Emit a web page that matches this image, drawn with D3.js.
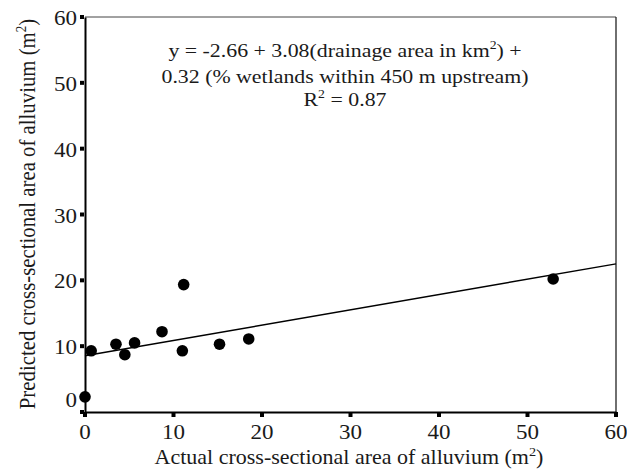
<!DOCTYPE html>
<html>
<head>
<meta charset="utf-8">
<script src="https://cdn.jsdelivr.net/npm/d3@7"></script>
<style>
  html, body { margin: 0; padding: 0; background: #fff; }
  svg { display: block; }
  svg text, svg tspan { font-family: "Liberation Serif", "DejaVu Serif", serif; fill: #1a1a1a; }
</style>
</head>
<body>
<svg id="chart" width="627" height="475"></svg>
<script>
// Data
const actualArea    = [0, 0.7, 3.5, 4.5, 5.6, 8.7, 11.0, 11.15, 15.2, 18.5, 52.9];
const predictedArea = [2.3, 9.3, 10.3, 8.7, 10.5, 12.2, 9.3, 19.35, 10.3, 11.1, 20.2];
const fitX = [0, 60];
const fitY = [8.55, 22.5];
const xTicks = [0, 10, 20, 30, 40, 50, 60];
const yTicks = [0, 10, 20, 30, 40, 50, 60];
const eqLines = [
  ["y = -2.66 + 3.08(drainage area in km", "2", ") +"],
  ["0.32 (% wetlands within 450 m upstream)", "", ""],
  ["R", "2", " = 0.87"]
];

const FONT = "Liberation Serif";
const svg = d3.select("#chart");
const L = 85, R = 616, T = 17, B = 412;
const x = d3.scaleLinear().domain([0, 60]).range([L, R]);
const y = d3.scaleLinear().domain([0, 60]).range([B, T]);
const SX = 1.15; // horizontal stretch of the glyphs in the reference

// frame: top and right thin
svg.append("line").attr("x1", L).attr("x2", R).attr("y1", T).attr("y2", T)
  .attr("stroke", "#444").attr("stroke-width", 1);
svg.append("line").attr("x1", R).attr("x2", R).attr("y1", T).attr("y2", B)
  .attr("stroke", "#222").attr("stroke-width", 1.3);

// axes using d3 axis generators, then restyle
const yAxis = svg.append("g").attr("transform", `translate(${L},0)`)
  .call(d3.axisLeft(y).tickValues(yTicks).tickSize(0).tickFormat(""));
yAxis.select(".domain").attr("stroke", "#000").attr("stroke-width", 2);
const xAxis = svg.append("g").attr("transform", `translate(0,${B})`)
  .call(d3.axisBottom(x).tickValues(xTicks).tickSize(0).tickFormat(""));
xAxis.select(".domain").attr("stroke", "#000").attr("stroke-width", 2);

// square tick marks
svg.append("g").selectAll("rect").data(yTicks).join("rect")
  .attr("x", L - 5).attr("y", d => y(d) - 2).attr("width", 4).attr("height", 4).attr("fill", "#000");
svg.append("g").selectAll("rect").data(xTicks).join("rect")
  .attr("x", d => x(d) - 2).attr("y", B).attr("width", 4).attr("height", 5).attr("fill", "#000");

// tick labels
svg.append("g").selectAll("text").data(yTicks).join("text")
  .attr("font-family", FONT)
  .attr("transform", d => `translate(${L - 8},${y(d) + (d === 0 ? -5 : 8)}) scale(${SX},1)`)
  .attr("text-anchor", "end").attr("font-size", 20).text(d => d);
svg.append("g").selectAll("text").data(xTicks).join("text")
  .attr("font-family", FONT)
  .attr("transform", d => `translate(${x(d)},${439}) scale(${SX},1)`)
  .attr("text-anchor", "middle").attr("font-size", 20).text(d => d);

// fitted line
svg.append("path")
  .attr("d", d3.line().x(d => x(d[0])).y(d => y(d[1]))(fitX.map((v, i) => [v, fitY[i]])))
  .attr("fill", "none").attr("stroke", "#000").attr("stroke-width", 1.5);

// points
svg.append("g").selectAll("circle").data(actualArea.map((v, i) => [v, predictedArea[i]])).join("circle")
  .attr("cx", d => x(d[0])).attr("cy", d => y(d[1])).attr("r", 5.8).attr("fill", "#000");

// equation
const eqBase = [57, 83, 106];
eqLines.forEach((ln, i) => {
  const t = svg.append("text").attr("font-family", FONT)
    .attr("transform", `translate(345,${eqBase[i]}) scale(${SX},1)`)
    .attr("text-anchor", "middle").attr("font-size", 19);
  t.append("tspan").text(ln[0]);
  if (ln[1]) t.append("tspan").attr("font-size", 12).attr("dy", -8).text(ln[1]);
  if (ln[2]) t.append("tspan").attr("dy", ln[1] ? 8 : 0).text(ln[2]);
});

// x title
const xt = svg.append("text").attr("font-family", FONT)
  .attr("transform", `translate(349,464) scale(1.1,1)`)
  .attr("text-anchor", "middle").attr("font-size", 20);
xt.append("tspan").text("Actual cross-sectional area of alluvium (m");
xt.append("tspan").attr("font-size", 13).attr("dy", -8).text("2");
xt.append("tspan").attr("dy", 8).text(")");

// y title
const yt = svg.append("text").attr("font-family", FONT)
  .attr("transform", `translate(35,214) rotate(-90) scale(1,${SX})`)
  .attr("text-anchor", "middle").attr("font-size", 20.8);
yt.append("tspan").text("Predicted cross-sectional area of alluvium (m");
yt.append("tspan").attr("font-size", 13).attr("dy", -8).text("2");
yt.append("tspan").attr("dy", 8).text(")");
</script>
</body>
</html>
